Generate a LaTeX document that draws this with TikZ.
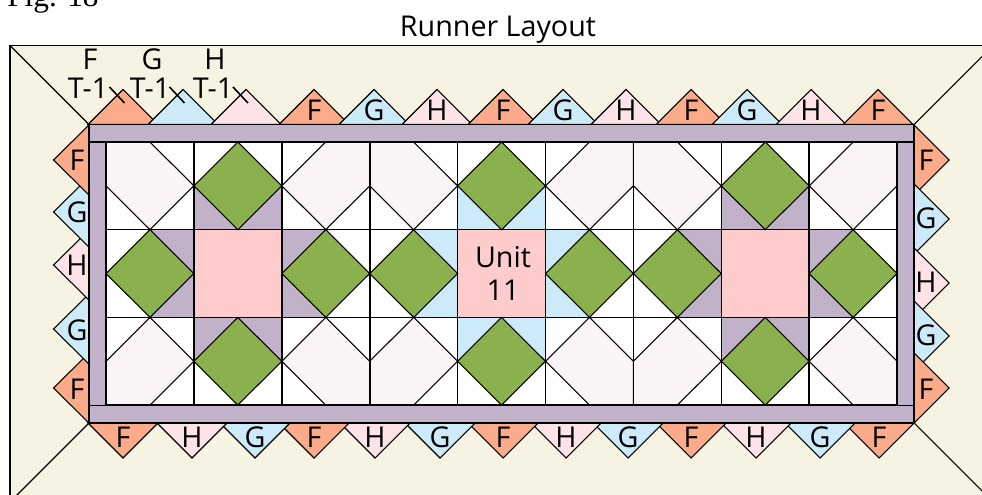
\documentclass[tikz,border=0pt]{standalone}
\usepackage{fontspec}
\setmainfont{Open Sans}
\newfontfamily\figfont{Liberation Serif}
\definecolor{cream}{HTML}{F7F3E3}
\definecolor{cF}{HTML}{FBAA8A}
\definecolor{cG}{HTML}{CCEAF7}
\definecolor{cH}{HTML}{FEE3E8}
\definecolor{barc}{HTML}{C1B2C9}
\definecolor{leaf}{HTML}{8AB14E}
\definecolor{sqc}{HTML}{FFCCCD}
\definecolor{pale}{HTML}{FAF4F7}
\tikzset{
  thin line/.style={draw=black,line width=0.8pt,line join=miter},
  heavy line/.style={draw=black,line width=1.2pt},
  lab/.style={font=\fontsize{21.5}{21.5}\selectfont,anchor=base,inner sep=0pt,text=black},
  tri/.style={thin line},
}
\begin{document}
\begin{tikzpicture}[x=0.75pt,y=-0.75pt]
\useasboundingbox (0,0) rectangle (982,495);
\clip (0,0) rectangle (982,495);
% background field
\draw[fill=cream,line width=1pt] (10,45.5) rectangle (1000,520);
\draw[thin line] (10,45.5) -- (89,124.5);
\draw[thin line] (914,124.5) -- (1000,38.5);
\draw[thin line] (89,423) -- (9,503);
\draw[thin line] (914,423) -- (1000,509);
% top triangles (later ones lie on top)
\foreach \x/\l in {123/F,183/G,246/H,314/F,374/G,437/H,503/F,563/G,626/H,691/F,747/G,811/H,878/F}
  \draw[tri,fill=c\l] (\x-35,124.5) -- (\x,89.5) -- (\x+35,124.5) -- cycle;
% bottom triangles (earlier ones lie on top)
\foreach \x/\l in {879/F,820/G,756/H,691/F,628/G,566/H,503/F,440/G,375/H,314/F,255/G,192/H,123/F}
  \draw[tri,fill=c\l] (\x-35,423) -- (\x,458) -- (\x+35,423) -- cycle;
% left triangles
\foreach \y/\l in {388/F,329/G,265/H,212/G,160/F}
  \draw[tri,fill=c\l] (89,\y-35) -- (53.5,\y) -- (89,\y+35) -- cycle;
% right triangles
\foreach \y/\l in {160/F,219/G,283/H,336/G,388/F}
  \draw[tri,fill=c\l] (914,\y-35) -- (949,\y) -- (914,\y+35) -- cycle;
% frame
\draw[heavy line,fill=barc] (89,124.5) rectangle (914,423);
% quilt centre, in cell units
\begin{scope}[shift={(106,142)},x=65.925pt,y=-65.775pt]
  \fill[white] (0,0) rectangle (9,3);
  \foreach \c/\r in {0/0,3/0,6/0}
    \draw[thin line,fill=pale] (\c,\r) -- (\c+.5,\r) -- (\c+1,\r+.5) -- (\c+.5,\r+1) -- (\c,\r+.5) -- cycle;
  \foreach \c/\r in {2/0,5/0,8/0}
    \draw[thin line,fill=pale] (\c+1,\r) -- (\c+1,\r+.5) -- (\c+.5,\r+1) -- (\c,\r+.5) -- (\c+.5,\r) -- cycle;
  \foreach \c/\r in {0/2,3/2,6/2}
    \draw[thin line,fill=pale] (\c,\r+1) -- (\c,\r+.5) -- (\c+.5,\r) -- (\c+1,\r+.5) -- (\c+.5,\r+1) -- cycle;
  \foreach \c/\r in {2/2,5/2,8/2}
    \draw[thin line,fill=pale] (\c+1,\r+1) -- (\c+.5,\r+1) -- (\c,\r+.5) -- (\c+.5,\r) -- (\c+1,\r+.5) -- cycle;
  % coloured corners beside the centre squares
  \foreach \c/\k in {1/barc,4/cG,7/barc} {
    \fill[\k] (\c,0.5) -- (\c,1) -- (\c+.5,1) -- cycle;
    \fill[\k] (\c+1,0.5) -- (\c+1,1) -- (\c+.5,1) -- cycle;
    \fill[\k] (\c,2.5) -- (\c,2) -- (\c+.5,2) -- cycle;
    \fill[\k] (\c+1,2.5) -- (\c+1,2) -- (\c+.5,2) -- cycle;
    \fill[\k] (\c-.5,1) -- (\c,1) -- (\c,1.5) -- cycle;
    \fill[\k] (\c-.5,2) -- (\c,2) -- (\c,1.5) -- cycle;
    \fill[\k] (\c+1.5,1) -- (\c+1,1) -- (\c+1,1.5) -- cycle;
    \fill[\k] (\c+1.5,2) -- (\c+1,2) -- (\c+1,1.5) -- cycle;
    \fill[sqc] (\c,1) rectangle (\c+1,2);
  }
  % green diamonds
  \foreach \c/\r in {1/0,4/0,7/0,1/2,4/2,7/2,0/1,2/1,3/1,5/1,6/1,8/1}
    \draw[thin line,fill=leaf] (\c+.5,\r) -- (\c+1,\r+.5) -- (\c+.5,\r+1) -- (\c,\r+.5) -- cycle;
  % grid
  \foreach \c in {1,...,8} \draw[heavy line] (\c,0) -- (\c,3);
  \foreach \r in {1,2} \draw[heavy line] (0,\r) -- (9,\r);
  \draw[heavy line] (0,0) rectangle (9,3);
\end{scope}
\draw[heavy line] (89,142) -- (914,142);
\draw[heavy line] (89,405.5) -- (914,405.5);
% ticks
\foreach \x in {109.5,169.5,233}
  \draw[heavy line] (\x,87) -- (\x+15,103);
% captions
\node[font=\figfont\fontsize{23.5}{23.5}\selectfont,anchor=base west,inner sep=0pt] (fig) at (7,7) {Fig. 18};
\node[lab] (title) at (498,37) {Runner Layout};
\node[lab] (unit) at (503,268) {Unit};
\node[lab] (eleven) at (503,301) {11};
\node[lab] (tf) at (90,70) {F};
\node[lab] (tg) at (152,70) {G};
\node[lab] (th) at (215,70) {H};
\foreach \x/\n in {88/a,150/b,213/c}
  \node[lab] (t\n) at (\x,99) {T-1};
% letters
\foreach \x/\l [count=\i] in {314/F,374/G,437/H,503/F,563/G,626/H,691/F,747/G,811/H,878/F}
  \node[lab] (top\i) at (\x,121) {\l};
\foreach \x/\l [count=\i] in {123/F,192/H,255/G,314/F,375/H,440/G,503/F,566/H,628/G,691/F,756/H,820/G,879/F}
  \node[lab] (bot\i) at (\x,447) {\l};
\foreach \y/\l [count=\i] in {171/F,223/G,276/H,340/G,399/F}
  \node[lab] (lft\i) at (77,\y) {\l};
\foreach \y/\l [count=\i] in {171/F,229/G,293/H,346/G,399/F}
  \node[lab] (rgt\i) at (926,\y) {\l};
\end{tikzpicture}
\end{document}
